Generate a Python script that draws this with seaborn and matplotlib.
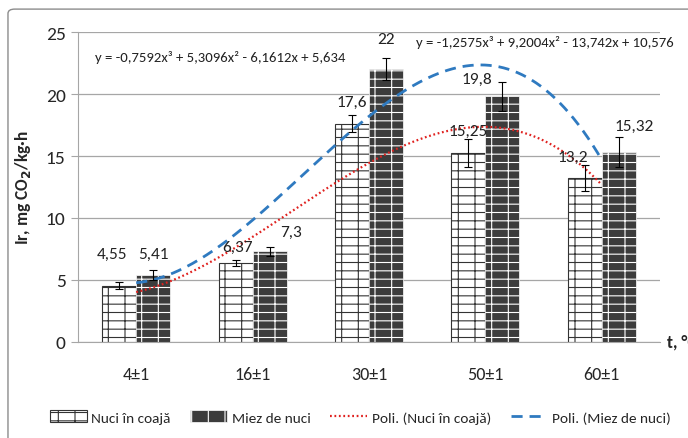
import numpy as np
import pandas as pd
import matplotlib
matplotlib.use('Agg')
import matplotlib.pyplot as plt
import seaborn as sns
from matplotlib import font_manager as fm
from matplotlib.patches import FancyBboxPatch, Patch
from matplotlib.lines import Line2D

# Data
categories = ['4±1', '16±1', '30±1', '50±1', '60±1']
nuci = [4.55, 6.37, 17.6, 15.25, 13.2]
miez = [5.41, 7.3, 22, 19.8, 15.32]
nuci_err = [0.3, 0.25, 0.7, 1.1, 1.05]
miez_err = [0.4, 0.4, 0.9, 1.2, 1.2]
nuci_labels = ['4,55', '6,37', '17,6', '15,25', '13,2']
miez_labels = ['5,41', '7,3', '22', '19,8', '15,32']
# trendline coefficients (Excel polynomial, order 3)
nuci_poly = [-0.7592, 5.3096, -6.1612, 5.634]
miez_poly = [-1.2575, 9.2004, -13.742, 10.576]
eq_nuci = 'y = -0,7592x³ + 5,3096x² - 6,1612x + 5,634'
eq_miez = 'y = -1,2575x³ + 9,2004x² - 13,742x + 10,576'

series = ['Nuci în coajă', 'Miez de nuci']
df = pd.DataFrame({
    'temp': categories * 2,
    'val': nuci + miez,
    'serie': [series[0]] * 5 + [series[1]] * 5,
})

# pick a narrow font (Calibri-like) if one is installed
installed = set(f.name for f in fm.fontManager.ttflist)
font = 'DejaVu Sans'
for cand in ['Carlito', 'Liberation Sans Narrow', 'Open Sans Condensed',
             'Roboto Condensed', 'PT Sans Narrow', 'Archivo Narrow',
             'Fira Sans Condensed', 'Roboto']:
    if cand in installed:
        font = cand
        break

sns.set_style('white')
plt.rcParams['font.family'] = [font, 'DejaVu Sans']
plt.rcParams['hatch.linewidth'] = 0.8

fig = plt.figure(figsize=(6.88, 4.39), dpi=100)
ax = fig.add_axes([0.1134, 0.2187, 0.8459, 0.7061])

sns.barplot(data=df, x='temp', y='val', hue='serie', order=categories,
            hue_order=series, width=0.585, ax=ax, legend=False)

# bar styling
c_nuci, c_miez = ax.containers[0], ax.containers[1]
for p in c_nuci:
    p.set_facecolor('white')
    p.set_edgecolor('#333333')
    p.set_hatch('--|')
    p.set_linewidth(0.8)
for p in c_miez:
    p.set_facecolor('#3c3c3c')
    p.set_edgecolor('white')
    p.set_hatch('--|')
    p.set_linewidth(0.5)

# error bars
for cont, err in [(c_nuci, nuci_err), (c_miez, miez_err)]:
    xs = [p.get_x() + p.get_width() / 2 for p in cont]
    ys = [p.get_height() for p in cont]
    ax.errorbar(xs, ys, yerr=err, fmt='none', ecolor='black', elinewidth=0.8,
                capsize=3, capthick=0.8, zorder=5)

# data labels
nudge_n = [-0.06, 0.02, 0.0, 0.0, -0.1]
nudge_m = [0.0, 0.18, 0.0, -0.22, 0.13]
lab_y_n = [7.1, 7.7, 19.4, 17.0, 14.9]
lab_y_m = [7.1, 8.9, 24.4, 21.2, 17.4]
for cont, labs, nud, ly in [(c_nuci, nuci_labels, nudge_n, lab_y_n),
                            (c_miez, miez_labels, nudge_m, lab_y_m)]:
    for p, lab, d, yy in zip(cont, labs, nud, ly):
        ax.text(p.get_x() + p.get_width() / 2 + d, yy, lab, ha='center',
                va='center', fontsize=12.5, color='#222222')

# polynomial trendlines
t = np.linspace(1, 5, 200)
sns.lineplot(x=t - 1, y=np.polyval(nuci_poly, t), color='#e0211f',
             linestyle=(0, (0.8, 1.2)), linewidth=1.6, ax=ax)
sns.lineplot(x=t - 1, y=np.polyval(miez_poly, t), color='#2f7ac0',
             linestyle=(0, (4, 2.5)), linewidth=2, ax=ax)

ax.text(0.03, 0.92, eq_nuci, transform=ax.transAxes, fontsize=10.6,
        ha='left', va='center', color='#222222')
ax.text(0.58, 0.97, eq_miez, transform=ax.transAxes, fontsize=10.6,
        ha='left', va='center', color='#222222', clip_on=False)

# axes
ax.set_xlim(-0.5, 4.5)
ax.set_ylim(0, 25)
ax.set_yticks([0, 5, 10, 15, 20, 25])
ax.yaxis.grid(True, color='#a6a6a6', linewidth=0.9)
ax.set_axisbelow(True)
for s in ['top', 'right']:
    ax.spines[s].set_visible(False)
ax.spines['left'].set_color('#a6a6a6')
ax.spines['bottom'].set_color('#a6a6a6')
ax.set_xticks(np.arange(-0.5, 5.0, 1.0), minor=True)
ax.tick_params(axis='x', which='major', length=0, labelsize=13, pad=17)
ax.tick_params(axis='x', which='minor', length=6, color='#a6a6a6', direction='out')
ax.tick_params(axis='y', length=5, color='#a6a6a6', labelsize=14, left=True, pad=4)
ax.set_xlabel('')
ax.set_ylabel(r'Ir, mg CO$_\mathbf{2}$/kg·h', fontsize=12.5, fontweight='bold',
              labelpad=9)
ax.text(1.012, 0.0, 't, °C', transform=ax.transAxes, fontsize=12.5,
        fontweight='bold', ha='left', va='center', clip_on=False)

# legend
handles = [
    Patch(facecolor='white', edgecolor='#333333', hatch='--|', linewidth=0.8),
    Patch(facecolor='#3c3c3c', edgecolor='white', hatch='|', linewidth=0.5),
    Line2D([], [], color='#e0211f', linestyle=(0, (0.8, 1.2)), linewidth=1.6),
    Line2D([], [], color='#2f7ac0', linestyle=(0, (4, 2.5)), linewidth=2),
]
labels = series + ['Poli. (Nuci în coajă)', 'Poli. (Miez de nuci)']
ax.legend(handles, labels, loc='center', bbox_to_anchor=(0.485, -0.242),
          ncol=4, frameon=False, fontsize=11, handlelength=2.4,
          handleheight=0.8, columnspacing=1.3, handletextpad=0.3,
          borderpad=0, borderaxespad=0)

# outer chart border
fig.patches.append(FancyBboxPatch((0.0116, -0.05), 1.05, 1.027,
                                  boxstyle='round,pad=0,rounding_size=0.01',
                                  transform=fig.transFigure, fill=False,
                                  edgecolor='#8c8c8c', linewidth=1.0))

fig.savefig('out.png', dpi=100)
